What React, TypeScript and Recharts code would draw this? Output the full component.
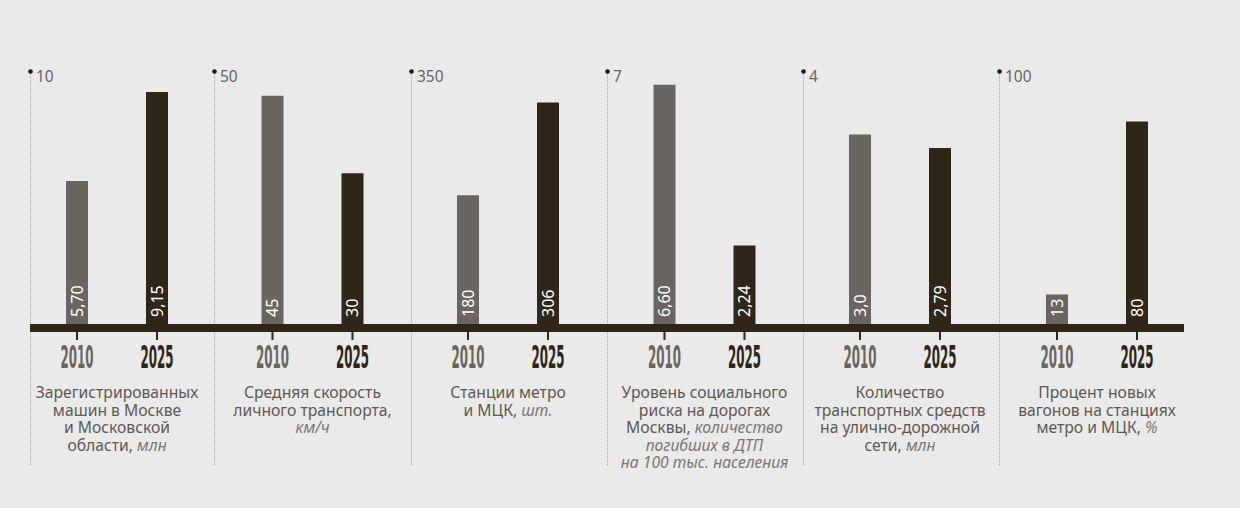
import React from 'react';
import { BarChart, Bar, XAxis, YAxis, Cell, LabelList } from 'recharts';

// years shown under every pair of bars
const years = ['2010', '2025'];

// top of each panel's own scale
const scaleMax = [10, 50, 350, 7, 4, 100];

const values2010 = [5.7, 45, 180, 6.6, 3.0, 13];
const values2025 = [9.15, 30, 306, 2.24, 2.79, 80];

const labels2010 = ['5,70', '45', '180', '6,60', '3,0', '13'];
const labels2025 = ['9,15', '30', '306', '2,24', '2,79', '80'];

type Seg = { t: string; i?: boolean };

const captions: Seg[][][] = [
  [[{ t: 'Зарегистрированных' }], [{ t: 'машин в Москве' }], [{ t: 'и Московской' }], [{ t: 'области, ' }, { t: 'млн', i: true }]],
  [[{ t: 'Средняя скорость' }], [{ t: 'личного транспорта,' }], [{ t: 'км/ч', i: true }]],
  [[{ t: 'Станции метро' }], [{ t: 'и МЦК, ' }, { t: 'шт.', i: true }]],
  [
    [{ t: 'Уровень социального' }],
    [{ t: 'риска на дорогах' }],
    [{ t: 'Москвы, ' }, { t: 'количество', i: true }],
    [{ t: 'погибших в ДТП', i: true }],
    [{ t: 'на 100 тыс. населения', i: true }],
  ],
  [[{ t: 'Количество' }], [{ t: 'транспортных средств' }], [{ t: 'на улично-дорожной' }], [{ t: 'сети, ' }, { t: 'млн', i: true }]],
  [[{ t: 'Процент новых' }], [{ t: 'вагонов на станциях' }], [{ t: 'метро и МЦК, ' }, { t: '%', i: true }]],
];

// layout
const panelLeft = [30, 214, 411, 607, 803, 999];
const panelRight = 1184;
const padLeft = [7, 18.5, 17, 17.5, 17, 18];
const PLOT_TOP = 70;
const PLOT_BOTTOM = 328;
const CHART_H = 400;
const SHIFT = 6;

const BG = '#eaeaea';
const LIGHT = '#6b6561';
const DARK = '#2f2619';
const TEXT = '#5f5954';
const SANS = '"Noto Sans", sans-serif';

const yearColor = [LIGHT, DARK];

const YearTick = (props: any) => {
  const { x, payload, index } = props;
  return (
    <text
      x={x}
      y={368}
      textAnchor="middle"
      fontFamily='"DejaVu Sans Condensed", "DejaVu Sans", sans-serif'
      fontWeight="bold"
      fontSize={32}
      fill={yearColor[index] || DARK}
      textLength={33}
      lengthAdjust="spacingAndGlyphs"
    >
      {payload.value}
    </text>
  );
};

const MaxTick = (props: any) => {
  const { y, payload } = props;
  return (
    <g>
      <circle cx={SHIFT + 0.5} cy={y + 1.5} r={2.3} fill="#1e1a16" />
      <text x={SHIFT + 6} y={y + 11.5} fontFamily={SANS} fontSize={15.5} fill="#6a6561">
        {payload.value}
      </text>
    </g>
  );
};

const ValueLabel = (props: any) => {
  const { x, y, width, height, value } = props;
  const cx = x + width / 2;
  const by = y + height - 11;
  return (
    <text
      x={cx}
      y={by}
      dy="0.36em"
      transform={`rotate(-90, ${cx}, ${by})`}
      textAnchor="start"
      fontFamily={SANS}
      fontSize={16}
      fill="#ffffff"
    >
      {value}
    </text>
  );
};

const Panel = ({ idx }: { idx: number }) => {
  const left = panelLeft[idx];
  const right = idx < panelLeft.length - 1 ? panelLeft[idx + 1] : panelRight;
  const w = right - left;
  const padL = padLeft[idx];
  const padR = w - padL - 160;
  const data = years.map((year, k) => ({
    year,
    value: k === 0 ? values2010[idx] : values2025[idx],
    label: k === 0 ? labels2010[idx] : labels2025[idx],
  }));
  const center = left + padL + 80;
  return (
    <>
      <div
        style={{
          position: 'absolute',
          left: left,
          top: 72,
          height: 393,
          borderLeft: '1px dotted #a0a0a0',
        }}
      />
      <div style={{ position: 'absolute', left: left - SHIFT, top: 0 }}>
        <BarChart
          width={w + SHIFT + 1}
          height={CHART_H}
          data={data}
          margin={{ top: PLOT_TOP, left: SHIFT - 1, right: 1, bottom: CHART_H - PLOT_BOTTOM - 40 }}
          barSize={22}
          style={{ overflow: 'visible' }}
        >
          <XAxis
            dataKey="year"
            height={40}
            padding={{ left: padL, right: padR }}
            axisLine={{ stroke: DARK, strokeWidth: 8 }}
            tickLine={{ stroke: DARK, strokeWidth: 2 }}
            tickSize={12}
            tick={<YearTick />}
            interval={0}
          />
          <YAxis
            width={1}
            domain={[0, scaleMax[idx]]}
            ticks={[scaleMax[idx]]}
            axisLine={false}
            tickLine={false}
            tick={<MaxTick />}
            interval={0}
          />
          <Bar dataKey="value" isAnimationActive={false}>
            {data.map((d, k) => (
              <Cell key={d.year} fill={yearColor[k]} />
            ))}
            <LabelList dataKey="label" content={<ValueLabel />} />
          </Bar>
        </BarChart>
      </div>
      <div
        style={{
          position: 'absolute',
          left: center - 100,
          width: 200,
          top: 384,
          textAlign: 'center',
          fontFamily: SANS,
          fontSize: 15.7,
          lineHeight: '17.5px',
          color: TEXT,
        }}
      >
        {captions[idx].map((line, li) => (
          <div key={li}>
            {line.map((s, si) =>
              s.i ? (
                <span key={si} style={{ fontStyle: 'italic', color: '#7d7772' }}>
                  {s.t}
                </span>
              ) : (
                <span key={si}>{s.t}</span>
              )
            )}
          </div>
        ))}
      </div>
    </>
  );
};

const App = () => {
  return (
    <div
      style={{
        position: 'absolute',
        left: 0,
        top: 0,
        width: 1240,
        height: 508,
        background: BG,
        overflow: 'hidden',
      }}
    >
      {panelLeft.map((_, i) => (
        <Panel key={i} idx={i} />
      ))}
    </div>
  );
};

export default App;
